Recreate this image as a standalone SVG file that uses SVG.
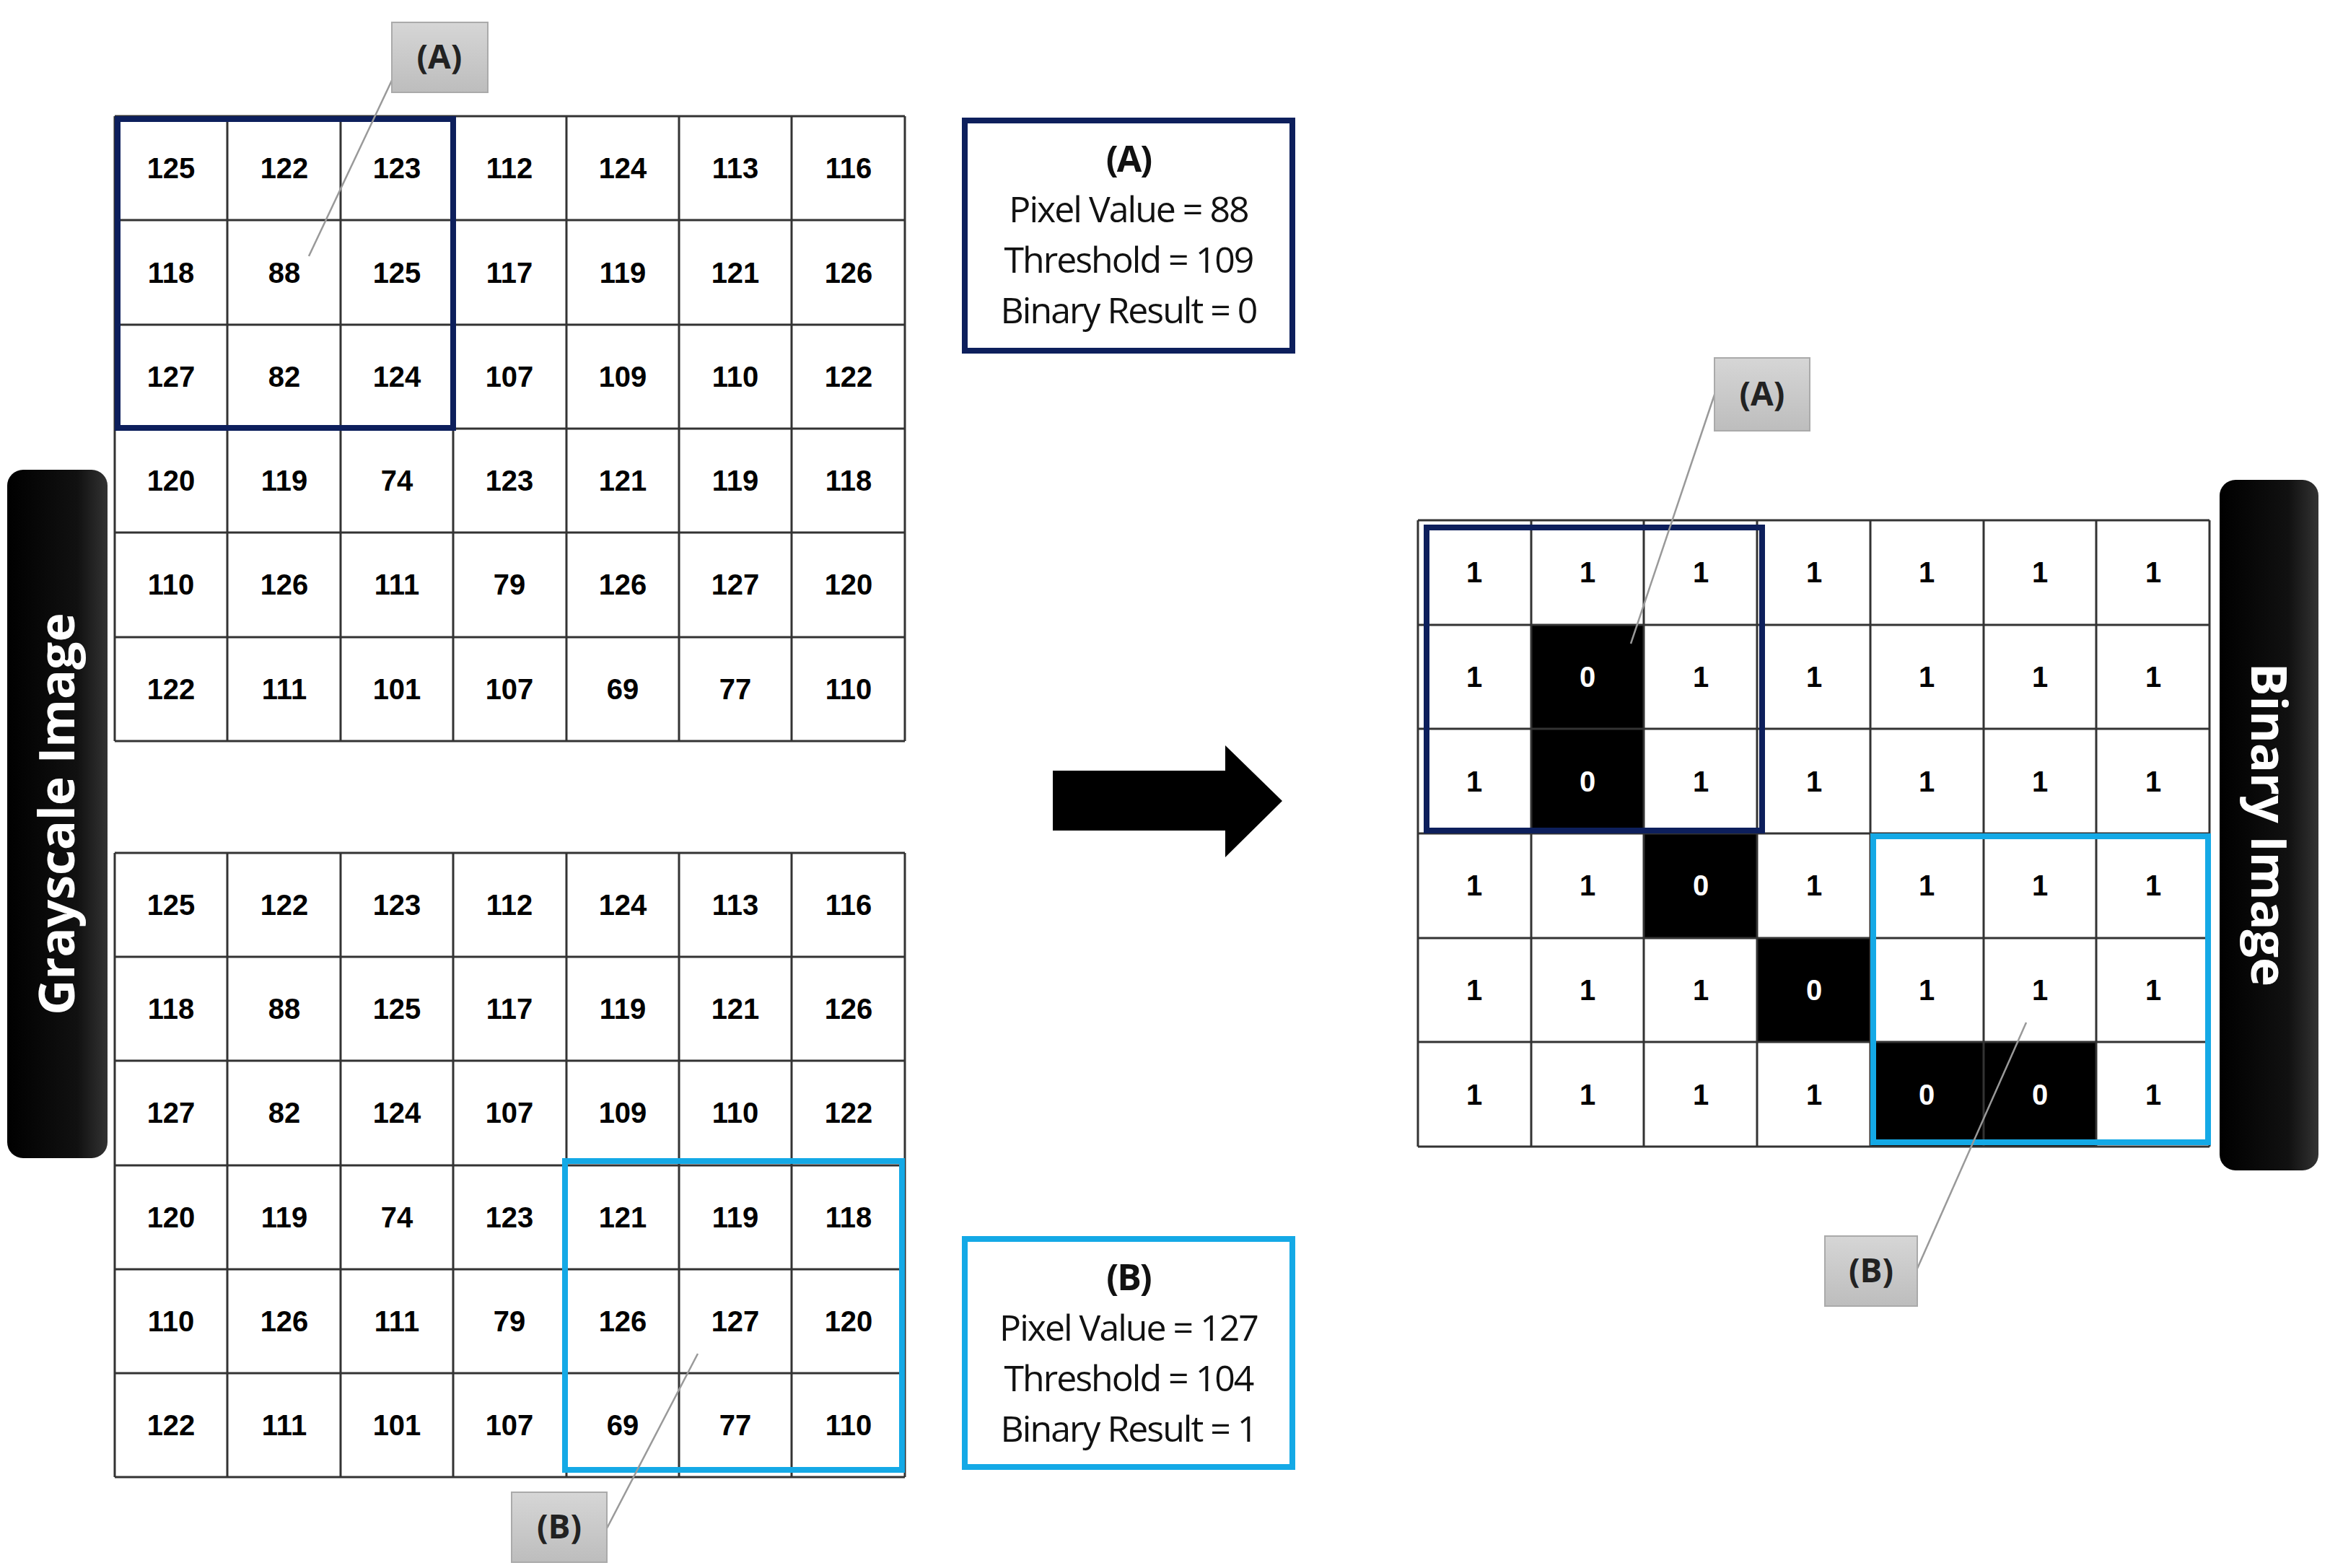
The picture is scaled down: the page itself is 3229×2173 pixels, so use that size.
<svg xmlns="http://www.w3.org/2000/svg" width="3229" height="2173" viewBox="0 0 3229 2173">
<style>
.g{stroke:#333;stroke-width:3;fill:none}
.n{font-family:"Liberation Sans",Arial,sans-serif;font-weight:bold;font-size:40px;text-anchor:middle;fill:#000}
.w{fill:#fff}
.i{font-family:"Open Sans","Noto Sans",sans-serif;font-size:50px;text-anchor:middle;fill:#111;letter-spacing:-2px}
.ib{font-weight:bold}
.cl{fill:url(#gr);stroke:#aaa;stroke-width:2}
.ct{font-family:"Open Sans","Noto Sans",sans-serif;font-weight:bold;font-size:46px;text-anchor:middle;fill:#222}
.lead{stroke:#999;stroke-width:2.5;fill:none}
.side{font-family:"Open Sans","Noto Sans",sans-serif;font-weight:bold;font-size:68px;text-anchor:middle;fill:#fff}
</style>
<defs>
<linearGradient id="gr" x1="0" y1="0" x2="0" y2="1"><stop offset="0" stop-color="#d6d6d6"/><stop offset="1" stop-color="#bdbdbd"/></linearGradient>
<linearGradient id="bk" x1="0" y1="0" x2="1" y2="0"><stop offset="0" stop-color="#000"/><stop offset="0.7" stop-color="#111"/><stop offset="1" stop-color="#333"/></linearGradient>
</defs>
<rect width="3229" height="2173" fill="#fff"/>

<g id="grayscale-label">
<rect x="10" y="651" width="139" height="954" rx="22" fill="url(#bk)"/>
<text class="side" transform="translate(103,1128) rotate(-90)">Grayscale Image</text>
</g>

<g id="grid-top">
<path class="g" d="M159 161V1027M315 161V1027M472 161V1027M628 161V1027M785 161V1027M941 161V1027M1097 161V1027M1254 161V1027M159 161H1254M159 305H1254M159 450H1254M159 594H1254M159 738H1254M159 883H1254M159 1027H1254"/>
<text class="n" x="237" y="247">125</text><text class="n" x="394" y="247">122</text><text class="n" x="550" y="247">123</text><text class="n" x="706" y="247">112</text><text class="n" x="863" y="247">124</text><text class="n" x="1019" y="247">113</text><text class="n" x="1176" y="247">116</text>
<text class="n" x="237" y="392">118</text><text class="n" x="394" y="392">88</text><text class="n" x="550" y="392">125</text><text class="n" x="706" y="392">117</text><text class="n" x="863" y="392">119</text><text class="n" x="1019" y="392">121</text><text class="n" x="1176" y="392">126</text>
<text class="n" x="237" y="536">127</text><text class="n" x="394" y="536">82</text><text class="n" x="550" y="536">124</text><text class="n" x="706" y="536">107</text><text class="n" x="863" y="536">109</text><text class="n" x="1019" y="536">110</text><text class="n" x="1176" y="536">122</text>
<text class="n" x="237" y="680">120</text><text class="n" x="394" y="680">119</text><text class="n" x="550" y="680">74</text><text class="n" x="706" y="680">123</text><text class="n" x="863" y="680">121</text><text class="n" x="1019" y="680">119</text><text class="n" x="1176" y="680">118</text>
<text class="n" x="237" y="824">110</text><text class="n" x="394" y="824">126</text><text class="n" x="550" y="824">111</text><text class="n" x="706" y="824">79</text><text class="n" x="863" y="824">126</text><text class="n" x="1019" y="824">127</text><text class="n" x="1176" y="824">120</text>
<text class="n" x="237" y="969">122</text><text class="n" x="394" y="969">111</text><text class="n" x="550" y="969">101</text><text class="n" x="706" y="969">107</text><text class="n" x="863" y="969">69</text><text class="n" x="1019" y="969">77</text><text class="n" x="1176" y="969">110</text>
<rect x="163" y="165" width="465" height="428" fill="none" stroke="#0d1f5c" stroke-width="8"/>
</g>

<g id="grid-bottom">
<path class="g" d="M159 1182V2047M315 1182V2047M472 1182V2047M628 1182V2047M785 1182V2047M941 1182V2047M1097 1182V2047M1254 1182V2047M159 1182H1254M159 1326H1254M159 1470H1254M159 1615H1254M159 1759H1254M159 1903H1254M159 2047H1254"/>
<text class="n" x="237" y="1268">125</text><text class="n" x="394" y="1268">122</text><text class="n" x="550" y="1268">123</text><text class="n" x="706" y="1268">112</text><text class="n" x="863" y="1268">124</text><text class="n" x="1019" y="1268">113</text><text class="n" x="1176" y="1268">116</text>
<text class="n" x="237" y="1412">118</text><text class="n" x="394" y="1412">88</text><text class="n" x="550" y="1412">125</text><text class="n" x="706" y="1412">117</text><text class="n" x="863" y="1412">119</text><text class="n" x="1019" y="1412">121</text><text class="n" x="1176" y="1412">126</text>
<text class="n" x="237" y="1556">127</text><text class="n" x="394" y="1556">82</text><text class="n" x="550" y="1556">124</text><text class="n" x="706" y="1556">107</text><text class="n" x="863" y="1556">109</text><text class="n" x="1019" y="1556">110</text><text class="n" x="1176" y="1556">122</text>
<text class="n" x="237" y="1701">120</text><text class="n" x="394" y="1701">119</text><text class="n" x="550" y="1701">74</text><text class="n" x="706" y="1701">123</text><text class="n" x="863" y="1701">121</text><text class="n" x="1019" y="1701">119</text><text class="n" x="1176" y="1701">118</text>
<text class="n" x="237" y="1845">110</text><text class="n" x="394" y="1845">126</text><text class="n" x="550" y="1845">111</text><text class="n" x="706" y="1845">79</text><text class="n" x="863" y="1845">126</text><text class="n" x="1019" y="1845">127</text><text class="n" x="1176" y="1845">120</text>
<text class="n" x="237" y="1989">122</text><text class="n" x="394" y="1989">111</text><text class="n" x="550" y="1989">101</text><text class="n" x="706" y="1989">107</text><text class="n" x="863" y="1989">69</text><text class="n" x="1019" y="1989">77</text><text class="n" x="1176" y="1989">110</text>
<rect x="783" y="1609" width="467" height="428" fill="none" stroke="#14a9e6" stroke-width="8"/>
</g>

<g id="info-a">
<rect x="1337" y="167" width="454" height="319" fill="#fff" stroke="#0d1f5c" stroke-width="8"/>
<text class="i ib" x="1564" y="238">(A)</text>
<text class="i" x="1564" y="308">Pixel Value = 88</text>
<text class="i" x="1564" y="378">Threshold = 109</text>
<text class="i" x="1564" y="448">Binary Result = 0</text>
</g>

<g id="info-b">
<rect x="1337" y="1717" width="454" height="316" fill="#fff" stroke="#14a9e6" stroke-width="8"/>
<text class="i ib" x="1564" y="1788">(B)</text>
<text class="i" x="1564" y="1858">Pixel Value = 127</text>
<text class="i" x="1564" y="1928">Threshold = 104</text>
<text class="i" x="1564" y="1998">Binary Result = 1</text>
</g>

<g id="arrow">
<path d="M1459 1068H1698V1033L1777 1110L1698 1188V1151H1459Z" fill="#000"/>
</g>

<g id="grid-right">
<rect x="2122" y="866" width="156" height="289" fill="#000"/>
<rect x="2278" y="1155" width="157" height="145" fill="#000"/>
<rect x="2435" y="1300" width="157" height="144" fill="#000"/>
<rect x="2592" y="1444" width="313" height="145" fill="#000"/>
<path class="g" d="M1965 721V1589M2122 721V1589M2278 721V1589M2435 721V1589M2592 721V1589M2749 721V1589M2905 721V1589M3062 721V1589M1965 721H3062M1965 866H3062M1965 1010H3062M1965 1155H3062M1965 1300H3062M1965 1444H3062M1965 1589H3062"/>
<text class="n" x="2043" y="807">1</text><text class="n" x="2200" y="807">1</text><text class="n" x="2357" y="807">1</text><text class="n" x="2514" y="807">1</text><text class="n" x="2670" y="807">1</text><text class="n" x="2827" y="807">1</text><text class="n" x="2984" y="807">1</text>
<text class="n" x="2043" y="952">1</text><text class="n w" x="2200" y="952">0</text><text class="n" x="2357" y="952">1</text><text class="n" x="2514" y="952">1</text><text class="n" x="2670" y="952">1</text><text class="n" x="2827" y="952">1</text><text class="n" x="2984" y="952">1</text>
<text class="n" x="2043" y="1097">1</text><text class="n w" x="2200" y="1097">0</text><text class="n" x="2357" y="1097">1</text><text class="n" x="2514" y="1097">1</text><text class="n" x="2670" y="1097">1</text><text class="n" x="2827" y="1097">1</text><text class="n" x="2984" y="1097">1</text>
<text class="n" x="2043" y="1241">1</text><text class="n" x="2200" y="1241">1</text><text class="n w" x="2357" y="1241">0</text><text class="n" x="2514" y="1241">1</text><text class="n" x="2670" y="1241">1</text><text class="n" x="2827" y="1241">1</text><text class="n" x="2984" y="1241">1</text>
<text class="n" x="2043" y="1386">1</text><text class="n" x="2200" y="1386">1</text><text class="n" x="2357" y="1386">1</text><text class="n w" x="2514" y="1386">0</text><text class="n" x="2670" y="1386">1</text><text class="n" x="2827" y="1386">1</text><text class="n" x="2984" y="1386">1</text>
<text class="n" x="2043" y="1531">1</text><text class="n" x="2200" y="1531">1</text><text class="n" x="2357" y="1531">1</text><text class="n" x="2514" y="1531">1</text><text class="n w" x="2670" y="1531">0</text><text class="n w" x="2827" y="1531">0</text><text class="n" x="2984" y="1531">1</text>
<rect x="1977" y="731" width="465" height="420" fill="none" stroke="#0d1f5c" stroke-width="8"/>
<rect x="2596" y="1159" width="464" height="424" fill="none" stroke="#14a9e6" stroke-width="8"/>
</g>

<g id="binary-label">
<rect x="3076" y="665" width="137" height="957" rx="22" fill="url(#bk)"/>
<text class="side" transform="translate(3120,1143) rotate(90)">Binary Image</text>
</g>

<g id="connectors">
<path class="lead" d="M547 103L428 355"/>
<path class="lead" d="M841 2118L967 1876"/>
<path class="lead" d="M2378 541L2260 892"/>
<path class="lead" d="M2657 1758L2808 1417"/>
</g>

<g id="callout-a-top"><rect class="cl" x="543" y="31" width="133" height="97"/><text class="ct" x="609" y="95">(A)</text></g>
<g id="callout-b-bottom"><rect class="cl" x="709" y="2068" width="132" height="97"/><text class="ct" x="775" y="2132">(B)</text></g>
<g id="callout-a-right"><rect class="cl" x="2376" y="496" width="132" height="101"/><text class="ct" x="2442" y="562">(A)</text></g>
<g id="callout-b-right"><rect class="cl" x="2529" y="1713" width="128" height="97"/><text class="ct" x="2593" y="1777">(B)</text></g>
</svg>
